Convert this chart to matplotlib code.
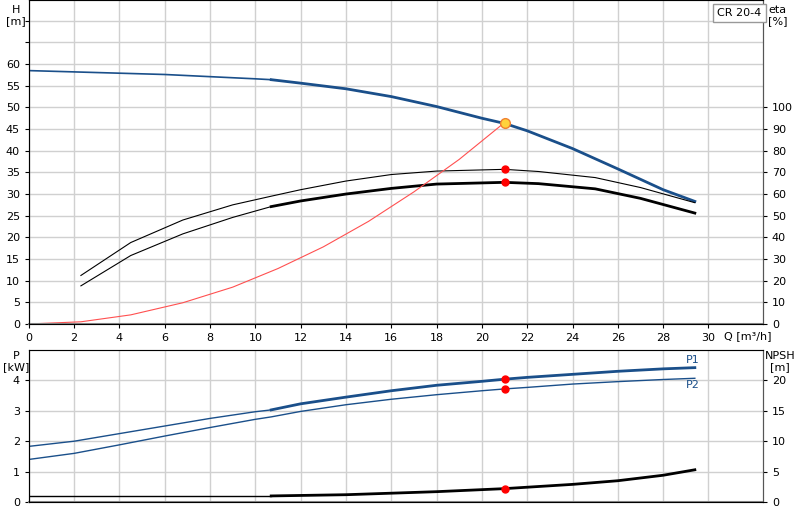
import matplotlib
matplotlib.use("Agg")
import matplotlib.pyplot as plt
import numpy as np

q_h = [0, 2, 4, 6, 8, 10, 10.7, 12, 14, 16, 18, 20, 21, 22, 24, 26, 28, 29.4]
h = [58.5, 58.2, 57.9, 57.6, 57.1, 56.6, 56.4, 55.6, 54.3, 52.5, 50.2, 47.5, 46.3, 44.6, 40.5, 35.8, 31.0, 28.3]
q_eta = [2.3, 4.5, 6.8, 9, 10.7, 12, 14, 16, 18, 21, 22.5, 25, 27, 29.4]
eta_hi = [22.4, 37.6, 48, 55, 59, 62, 66, 69, 70.6, 71.4, 70.4, 67.6, 63, 56]
eta_lo = [17.6, 31.6, 41.6, 49.2, 54.2, 56.8, 60, 62.6, 64.6, 65.4, 64.8, 62.4, 58, 51.2]
q_sys = [0, 2.3, 4.5, 6.8, 9, 11, 13, 15, 17, 19, 21]
h_sys = [0, 0.5, 2.1, 4.9, 8.5, 12.8, 17.8, 23.7, 30.5, 38.0, 46.5]
q_p = [0, 2, 4, 6, 8, 10, 10.7, 12, 14, 16, 18, 20, 21, 22, 24, 26, 28, 29.4]
p1 = [1.83, 2.0, 2.25, 2.5, 2.75, 2.97, 3.03, 3.23, 3.45, 3.66, 3.84, 3.97, 4.04, 4.1, 4.2, 4.3, 4.38, 4.42]
p2 = [1.4, 1.6, 1.88, 2.17, 2.45, 2.72, 2.8, 2.98, 3.2, 3.38, 3.53, 3.66, 3.72, 3.77, 3.88, 3.96, 4.03, 4.07]
q_npsh = [0, 10.7, 14, 18, 21, 24, 26, 28, 29.4]
npsh = [1.0, 1.0, 1.2, 1.7, 2.2, 2.9, 3.5, 4.4, 5.3]
q_op = 21

blue = "#1a4f8a"
fig = plt.figure(figsize=(8, 5.2), dpi=100)
ax = fig.add_axes([0.036, 0.377, 0.9175, 0.623])
bx = fig.add_axes([0.036, 0.0346, 0.9175, 0.2923])
xmax = 32.4
gc = "#d0d0d0"

def split(ax, x, y, c, lw_thin, lw_thick, xs=10.7):
    x = np.array(x); y = np.array(y)
    m1 = x <= xs; m2 = x >= xs
    ax.plot(x[m1], y[m1], color=c, lw=lw_thin)
    ax.plot(x[m2], y[m2], color=c, lw=lw_thick)

for a in (ax, bx):
    a.set_xlim(0, xmax)
    a.set_xticks(np.arange(0, 32, 2))
    a.grid(True, color=gc, lw=1)
    a.set_axisbelow(True)
    a.tick_params(labelsize=8, length=3, direction="out")
    a.spines["top"].set_color("#888888")
    a.spines["left"].set_color("#555555")
    a.spines["right"].set_color("#555555")
    a.spines["bottom"].set_color("#888888")
    a.spines["bottom"].set_linewidth(1.5)

ax.set_ylim(0, 74.8)
ax.set_yticks(np.arange(0, 75, 5))
ax.set_yticklabels([str(v) if v <= 60 else "" for v in range(0, 75, 5)])
ax.tick_params(axis="y", left=False)
split(ax, q_h, h, blue, 1.2, 2.0)
split(ax, q_eta, [v / 2 for v in eta_hi], "black", 0.8, 1.2, xs=30)
split(ax, q_eta, [v / 2 for v in eta_lo], "black", 0.8, 2.0)
ax.plot(q_sys, h_sys, color="#ff5050", lw=0.8)
ax.plot([q_op, q_op], [eta_hi[9] / 2, eta_lo[9] / 2], "o", color="red", ms=5, ls="none")
ax.plot(q_op, h_sys[-1], "o", ms=7, mfc="#ffd23c", mec="#f08030", mew=1)
ax2 = ax.twinx()
ax2.set_ylim(0, 149.6)
ax2.set_yticks(np.arange(0, 101, 10))
ax2.tick_params(labelsize=8, length=3)
ax2.spines["right"].set_color("#555555")
ax.set_xticklabels([str(v) for v in range(0, 32, 2)])
ax.text(30.7, -1.6, "Q [m³/h]", ha="left", va="top", fontsize=8)
fig.text(0.02, 0.99, "H\n[m]", ha="center", va="top", fontsize=8, linespacing=1.1)
fig.text(0.972, 0.99, "eta\n[%]", ha="center", va="top", fontsize=8, linespacing=1.1)
fig.text(0.924, 0.985, "CR 20-4", ha="center", va="top", fontsize=8,
         bbox=dict(fc="white", ec="#999999", pad=3))

bx.set_ylim(0, 5.0)
bx.set_yticks([0, 1, 2, 3, 4])
bx.set_xticklabels([])
bx.tick_params(axis="x", length=0)
bx.tick_params(axis="y", left=False)
split(bx, q_p, p1, blue, 1.0, 2.0)
bx.plot(q_p, p2, color=blue, lw=1.0)
split(bx, q_npsh, [v / 5 for v in npsh], "black", 1.0, 2.0)
bx.plot([q_op] * 3, [p1[12], p2[12], npsh[4] / 5], "o", color="red", ms=5, ls="none")
bx.text(29.6, p1[-1] + 0.1, "P1", color=blue, fontsize=8, ha="right", va="bottom")
bx.text(29.6, p2[-1] - 0.05, "P2", color=blue, fontsize=8, ha="right", va="top")
bx2 = bx.twinx()
bx2.set_ylim(0, 25)
bx2.set_yticks([0, 5, 10, 15, 20])
bx2.tick_params(labelsize=8, length=3)
bx2.spines["right"].set_color("#555555")
fig.text(0.02, 0.325, "P\n[kW]", ha="center", va="top", fontsize=8, linespacing=1.1)
fig.text(0.975, 0.325, "NPSH\n[m]", ha="center", va="top", fontsize=8, linespacing=1.1)

fig.savefig("out.png", dpi=100)
